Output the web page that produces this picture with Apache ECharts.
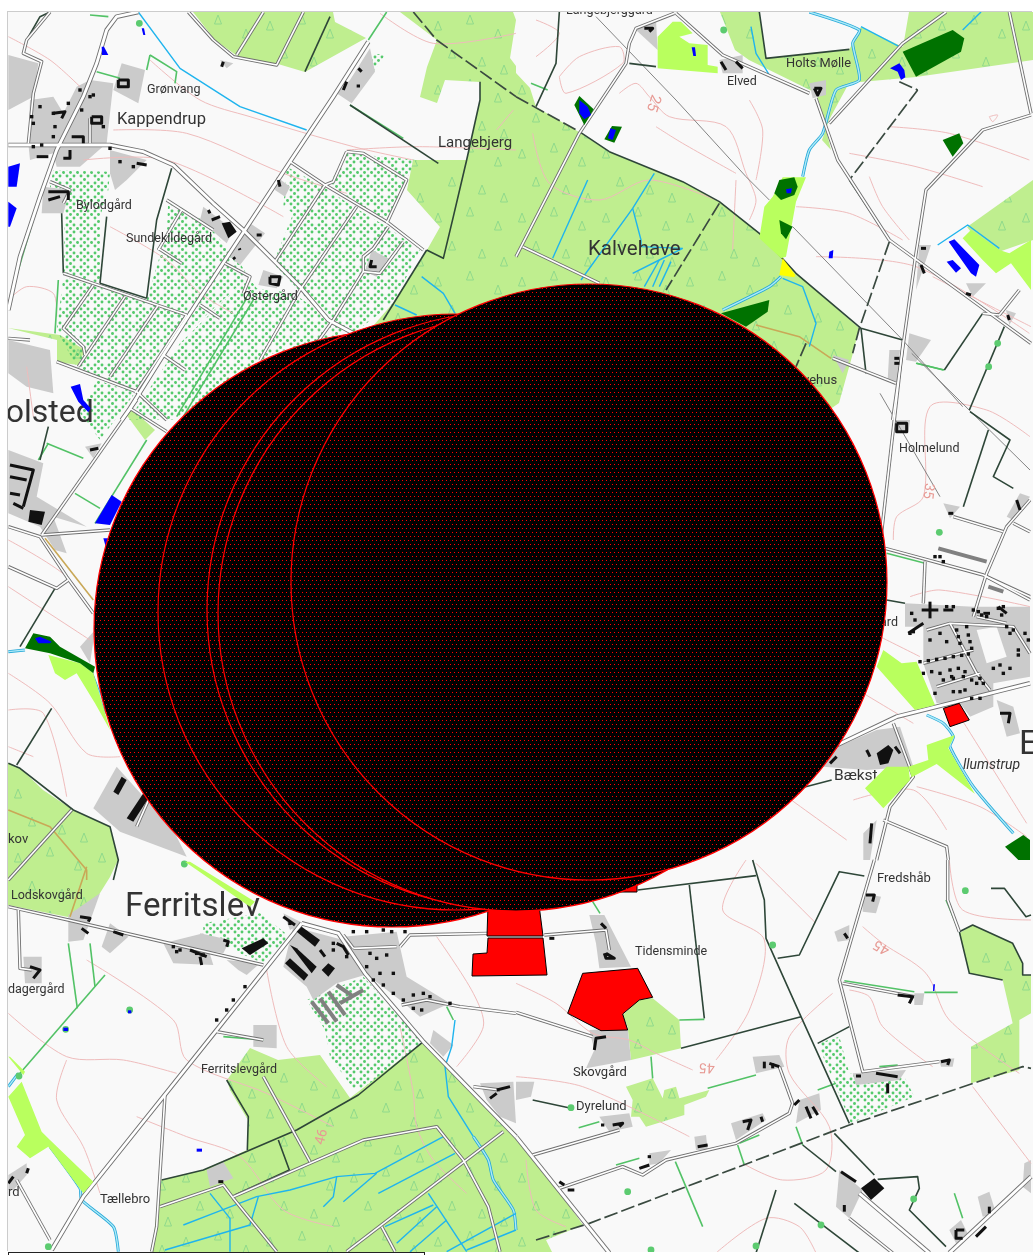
<!DOCTYPE html>
<html><head><meta charset="utf-8">
<style>
html,body{margin:0;padding:0;background:#fff;width:1033px;height:1255px;overflow:hidden}
#chart{position:absolute;left:8px;top:12px;width:1025px;height:1240px;box-shadow:-1px -1px 0 #ccc}
#box{position:absolute;left:8px;top:1252px;width:415px;height:6px;border:1px solid #222;background:#fff}
</style>
<script src="https://cdn.jsdelivr.net/npm/echarts@6/dist/echarts.min.js"></script>
</head><body><div id="chart"></div><div id="box"></div>
<script>
const A=[0,0],B=[516,0],C=[0,860],D=[516,860],E=[780,340],F=[0,380];
const sheet=(o,lists)=>lists.map(l=>{const r=[];for(let i=0;i<l.length;i+=2)r.push([o[0]+l[i]/3,o[1]+l[i+1]/3]);return r;});
const page=lists=>sheet([0,0],lists.map(l=>l.map(v=>v*3)));

const bufferCircles=[[392,629,298],[456,612,298],[505,610,298],[516,613,298],[589,582,298]];

const forest=[
 ...page([[193,12,333,12,335,22,366,38,305,72,278,64,240,58,215,40],
 [400,12,513,12,516,20,510,58,516,66,516,73,530,88,536,107,579,132,609,152,683,182,719,202,759,233,796,273,859,328,853,353,839,403,700,500,400,500,367,333,393,303,427,250,440,227,407,190,413,160,467,160,480,100,480,82,445,80,437,103,420,97,427,67,437,40],
 [720,12,759,12,766,58,849,50,861,27,903,47,909,12,1033,12,1033,60,916,77,849,83,829,120,822,140,831,150,820,105,816,93,749,60,735,50],
 [967,227,1033,180,1033,240,990,255],
 [8,763,20,768,43,790,73,810,110,827,118,860,110,877,100,893,83,920,8,905],
 [250,1048,278,1060,320,1055,350,1098,423,1042,516,1137,536,1160,583,1225,546,1240,552,1252,152,1252,160,1180,203,1170,247,1150,248,1120,230,1090,227,1080],
 [8,328,57,340,57,362,78,365,85,350,60,335],[125,413,133,410,155,430,145,440]]),
 ...sheet(D,[[410,415,490,480,495,565,345,600,335,500,320,465,370,420],
 [330,680,410,655,440,715,445,690,480,680,490,715,580,690,570,710,505,735,505,765,390,800,370,770,345,770,350,720],
 [1330,220,1370,195,1490,250,1520,310,1520,345,1545,345,1545,460,1510,480,1510,630,1365,670,1365,560,1490,490,1460,360,1360,340]])
];
const orchards=[
 ...sheet(A,[[160,510,330,515,325,570,300,650,300,850,190,820,195,640,150,560],
 [190,830,440,905,560,945,400,1180,230,1100,170,990],
 [505,600,640,680,660,720,720,790,745,830,560,1000,440,900,500,700],
 [745,830,770,865,880,880,1050,1000,820,1060,520,1260,385,1260,540,1030],
 [860,500,970,560,1060,620,1160,680,1260,750,1180,910,1060,1000,980,960,820,790,880,640,850,620],
 [1040,460,1250,480,1215,545,1165,660,1060,610,990,550],[1115,160,1155,165,1120,215]]),
 ...page([[80,413,97,380,135,393,100,440]]),
 ...sheet(C,[[610,190,780,160,870,230,790,310,720,280,610,220],[920,420,1090,350,1270,545,1070,700,990,590,975,510]]),
 ...sheet(D,[[905,550,970,530,1000,640,1165,650,1195,710,1005,790]])
];
const builtUp=[
 ...sheet(A,[[25,165,115,190,100,290,25,330],[90,300,160,290,190,340,230,260,270,240,340,250,320,430,240,500,170,500,160,460,90,480,85,430],[365,190,435,210,415,310,340,270],[330,450,440,480,380,540,345,570,330,520],[130,560,210,570,190,640,125,640],[610,620,700,690,680,730,600,660],[750,670,795,700,720,795,690,770],[830,530,870,560,855,590,825,570],[1110,145,1125,215,1055,310,1010,280,1050,240],[1115,750,1165,775,1130,830,1095,815],[790,810,850,830,830,865,775,855],[660,180,700,190,680,205],[25,1020,150,1050,160,1180,80,1160,25,1120]]),
 ...sheet(F,[[25,210,130,250,110,350,260,440,160,410,200,520,165,510,120,440,25,400],[255,200,305,190,280,235],[240,800,285,750,270,850],[280,1285,350,1160,520,1350,560,1430,360,1355]]),
 ...sheet(C,[[205,165,300,100,250,240,205,245],[330,190,385,230,330,280,305,260],[490,250,610,220,640,315,520,310],[600,220,690,240,670,280,610,270],[680,300,780,310,740,345,715,330],[760,495,830,495,830,565,760,560],[70,290,125,290,125,370,75,370],[25,945,80,910,80,945,40,990,25,990],[620,930,670,905,700,955,630,980],[1300,510,1360,555,1330,590,1290,550],[1440,670,1540,665,1548,790,1500,770,1460,720],[850,160,910,190,870,210],[880,200,1030,240,1095,345,1010,370,940,420,920,380,850,320],[1030,230,1190,215,1220,350,1350,430,1260,470,1200,420,1095,340]]),
 ...sheet(D,[[220,165,265,165,345,320,250,325,240,250],[220,510,335,505,345,600,210,625,235,570],[0,665,55,665,45,710,0,720],[710,590,790,585,805,620,720,640],[850,720,910,700,915,750,840,790],[645,790,740,760,750,780,660,840],[955,215,1000,195,1000,240,965,245],[1040,100,1095,110,1080,160,1040,155],[1010,640,1170,630,1150,660,1020,675],[1195,400,1225,400,1220,435,1195,435],[1270,600,1315,595,1310,620,1275,620],[535,830,570,825,575,870,540,870],[400,880,465,870,430,910,400,915],[250,770,340,760,350,800,280,815],[970,930,1040,990,1000,1075,960,1040],[1385,1010,1420,995,1440,1060,1400,1070],[1300,1110,1335,1080,1360,1130,1320,1150],[1525,910,1545,900,1545,1000,1520,980]]),
 ...sheet(E,[[375,790,580,800,750,800,750,1010,640,1030,640,1100,570,1130,540,1090,470,1090,430,970,430,860,375,860],[650,1080,700,1100,720,1180,680,1190],[150,1230,290,1170,360,1160,400,1280,260,1290,130,1280],[490,490,540,500,510,535],[680,530,720,460,750,470,700,540],[330,30,360,30,350,120,330,120],[345,240,390,240,385,280,350,275],[250,1480,290,1440,270,1560,250,1560]]),
 ...sheet(B,[[360,90,420,60,425,150],[610,180,680,165,680,220,620,220],[880,250,930,240,930,285,890,295],[1180,1000,1245,1020,1200,1085,1170,1080],[1120,1050,1150,1050,1145,1145,1115,1140],[1350,850,1410,850,1370,890],[1210,735,1245,735,1200,870],[950,1065,1000,1080,980,1120],[1470,930,1500,940,1480,975]])
];
const clearings=sheet(E,[[590,870,650,860,680,950,620,970]]);
const contours=[
 ...sheet(A,[[250,480,500,480,850,650],[340,390,560,400,850,520,1040,580],[450,180,600,300,750,350,1060,440,1240,480],[1140,40,1300,130,1548,100],[1490,390,1540,330],[330,680,500,780,600,880,700,940],[25,110,150,180,240,260],[25,900,80,860,160,880,170,950],[80,1100,100,1250],[1040,450,1250,440,1548,450]]),
 ...sheet(B,[[130,230,190,170,310,140,320,190,150,280,130,230],[310,280,360,250,400,290,460,350,630,380,690,520,720,600,700,660],[420,380,500,430,660,520],[840,620,1000,640,1160,720],[900,770,1200,800,1540,1000],[1120,380,1300,400,1540,480],[1060,530,1100,620,1180,720],[1250,830,1545,980],[50,400,100,550,250,600,400,540,600,600],[660,540,650,750],[700,300,740,390,720,540],[1420,350,1445,345,1430,365,1420,350],[1000,460,1200,500,1400,560],[60,60,130,100,60,170]]),
 ...sheet(C,[[260,300,520,480,560,600,800,700,1000,800],[25,460,200,590,370,600,530,640],[410,770,560,830,720,890,850,1050,1000,1100],[1200,500,1240,700,1250,800,1300,900,1400,1000],[800,330,860,560,980,680],[1310,230,1420,400,1450,500,1370,620],[200,600,170,720,250,860,300,1000]]),
 ...sheet(D,[[0,370,120,430,230,520,340,540,420,580,530,630],[600,600,700,450,745,240,620,150,690,0],[720,10,900,190],[1040,200,1100,250,1230,340,1300,480,1510,640],[1000,390,1060,410,1100,500,1250,620],[950,400,820,530,820,640,940,800,930,930,800,960,680,910],[0,650,200,680,520,830],[600,1179,750,1075,850,1100,900,1179],[1370,680,1545,910],[1300,0,1340,150,1545,180],[30,900,60,1050,150,1100]]),
 ...sheet(E,[[340,600,350,530,430,470,450,200,620,210,750,290],[390,770,480,750,750,800],[300,890,420,950],[250,1060,400,1150],[540,1130,740,1450],[20,1370,200,1500],[220,1380,400,1350,500,1470],[410,1340,600,1400,740,1490]]),
 ...sheet(F,[[25,480,200,590,290,720],[25,620,270,780],[25,880,150,970,260,1120,360,1130],[25,990,130,1000,200,1250],[25,1100,100,1130]])
];
const trails=[...sheet(F,[[25,1290,150,1340,260,1470,260,1500],[135,475,280,660]]),...sheet(C,[[260,20,210,170]]),...sheet(B,[[720,975,850,1010,945,1075]])];
const streams=[
 ...sheet(A,[[415,36,540,205,720,320,920,390],[1265,830,1330,880,1365,940],[1185,915,1250,945]]),
 ...sheet(B,[[1035,80,1150,140],[1340,90,1395,36],[215,540,110,775],[415,520,350,625,195,840],[350,625,375,720,375,740,500,745],[350,820,430,780,500,745],[430,780,385,860],[445,780,410,860],[465,785,430,860],[705,80,720,160,760,225],[800,835,860,860,900,970,880,1040],[1265,735,1355,675,1450,745]]),
 ...sheet(C,[[550,1095,640,1060,770,1010,870,990,1010,950,1125,940,1330,830],[1135,1000,1365,880],[1010,950,1000,1010,970,1040],[1030,1025,1130,940],[630,1000,690,1075,690,1175],[495,1170,750,1095,775,1010],[1285,1000,1400,1175],[1155,1100,1300,1035],[1190,1150,1310,1040],[1230,1175,1340,1080],[1340,1175,1548,1060],[1400,1170,1548,1110],[1365,480,1355,560,1335,620,1345,710,1420,830]])
];
const rivers=[
 ...sheet(B,[[880,36,1030,90,1010,130,1030,240,960,270,920,400,880,450,860,530],[795,830,760,860,620,930]]),
 ...sheet(C,[[1420,830,1465,900,1480,960,1540,1050,1548,1110],[150,860,240,985,245,1020,340,1100,355,1175],[25,680,55,640]]),
 ...sheet(E,[[440,1125,490,1150,520,1190,510,1220,580,1340,700,1480]]),
 ...sheet(F,[[25,815,75,810],[275,880,320,1000]])
];
const hedgesGreen=[
 ...sheet(A,[[450,165,530,215,525,250],[450,165,440,210],[290,215,360,235],[1050,315,1210,415],[270,45,325,50],[1160,36,1105,120],[1000,290,950,370],[135,540,40,860],[165,1000,175,840],[740,895,530,1250],[760,900,550,1250]]),
 ...sheet(F,[[140,190,250,235],[115,240,145,190],[225,340,300,385],[285,430,440,180]]),
 ...sheet(C,[[205,250,232,445],[270,250,285,380],[315,345,60,640],[670,530,790,540],[1360,480,1340,440]]),
 ...sheet(D,[[490,480,565,478],[405,590,410,655],[575,685,720,645],[905,690,960,670],[840,800,860,855],[665,855,685,915],[478,905,560,1100],[188,803,250,785],[985,362,1195,395],[1225,397,1325,397],[1290,120,1330,215],[1315,1000,1340,1075],[300,915,370,895],[670,850,730,825],[1090,620,1145,615],[230,125,252,160]]),
 ...sheet(B,[[1200,1090,1285,1110],[45,250,95,270]]),
 ...sheet(E,[[320,640,435,670],[410,70,490,90]])
];
const hedgesDark=[
 ...sheet(A,[[515,505,470,660,440,895],[300,850,440,895],[320,650,300,850],[185,640,190,820],[1440,245,1440,300,1400,480,1360,650,1330,775,1280,750],[1050,315,1315,490],[990,50,915,215],[80,120,120,50,150,36],[1280,750,1150,960]]),
 ...sheet(B,[[190,395,280,455,500,545,610,605,730,700,840,820,1035,985,1160,1020],[130,36,120,190,60,320],[730,36,750,175,1000,148],[1000,540,1120,720],[1035,985,1050,1120],[1400,940,1285,1110],[1465,980,1360,1230],[340,190,420,200]]),
 ...sheet(E,[[570,215,690,300,640,410,700,445],[625,270,550,500],[320,780,375,790],[40,1350,155,1320]]),
 ...sheet(D,[[710,0,745,120,750,235,855,470,1000,790],[365,90,720,47],[520,75,565,475],[495,565,855,470],[785,295,850,285,970,35,1045,48],[905,550,1000,500],[860,855,960,935],[955,820,1075,945],[1085,958,1205,950,1210,985,1180,1050,1290,1160],[780,990,720,1179],[835,1030,1030,1179],[50,720,165,745],[1425,85,1465,85,1530,170,1545,165],[1330,215,1370,195,1490,250,1520,310,1520,345,1545,345],[1330,215,1360,340,1460,360]]),
 ...sheet(C,[[1270,545,1075,705,890,810,610,930,485,960],[680,660,745,770,742,870],[835,840,868,930,705,1005]]),
 ...sheet(F,[[25,1150,60,1165,220,1290,330,1340,355,1440,340,1500],[50,1155,155,985],[60,800,165,625],[145,140,120,240]])
];
const boundaries=[
 ...sheet(A,[[1240,36,1310,120,1548,290]]),
 ...sheet(B,[[0,290,190,395],[1120,725,1030,985,1010,1060],[1205,270,1000,540],[610,610,450,870],[870,1030,840,1100],[1150,245,1205,270]]),
 ...sheet(D,[[60,1140,220,1090,1000,795,1520,620,1545,625]])
];
const powerLines=[...sheet(B,[[240,50,480,300,690,530,760,600],[830,680,1160,1020,1340,1220]]),...sheet(E,[[395,40,750,390],[300,160,480,470]])];
const roads=[
 ...sheet(A,[[150,36,80,120,70,160,125,185,100,280,85,430],[870,485,975,555,1160,665,1270,750],[1040,455,1090,460,1220,540,1160,670],[1040,455,1000,545,975,555,825,785],[1070,620,900,870,780,1080],[1210,725,1140,820,1090,815,1090,770,1120,745,1165,680],[1090,815,1000,960,950,1030],[500,600,640,690],[545,630,475,750],[475,745,545,790],[675,790,750,830,730,880],[190,820,560,945],[280,855,190,985,250,1040,255,1065],[375,890,235,1100],[475,915,330,1130],[560,945,405,1180],[600,915,660,955],[490,1065,555,1110],[170,1085,410,1175,500,1260],[25,1015,90,1020],[150,545,210,570,190,610],[565,36,640,120,700,170,830,195,910,36],[790,36,710,165],[270,355,270,430]]),
 ...sheet(B,[[475,40,360,85,340,130,330,190,190,400,0,770],[480,40,620,165,880,280],[900,295,965,480,1120,720,1545,1030],[1545,345,1400,390,1230,570,1200,760,1130,1260],[1290,36,1160,130,940,370],[1480,36,1545,340],[20,740,250,850],[950,1075,1140,1150],[1400,940,1450,945],[1510,870,1450,945]]),
 ...sheet(E,[[370,0,300,620],[315,625,610,705,750,780],[750,480,680,560,620,700,580,830],[700,550,750,575],[520,530,670,575],[435,665,430,790],[620,710,750,770],[340,1150,400,1310,330,1400,290,1560],[310,1440,500,1520,505,1560],[430,970,580,930],[470,1040,600,1000],[510,850,590,1000,630,1050],[440,870,510,850,700,860,750,940],[590,830,680,850]]),
 ...sheet(F,[[25,440,120,470,200,590,280,700],[25,560,170,625,205,600],[125,465,330,450],[125,465,410,60],[390,85,500,155],[410,1340,450,1250],[25,1500,215,1290]]),
 ...sheet(C,[[25,140,205,180,790,315],[55,150,60,325,95,330],[495,705,470,1100,455,1175],[650,515,790,540],[790,650,930,905],[480,1040,670,975,700,1015,830,1175],[700,1010,1090,840,1310,800,1390,900,1465,1040,1500,1175],[1040,1175,1510,815],[1145,1100,1185,1175],[50,960,150,1140],[1200,260,1230,225,1465,220],[1060,265,1190,260],[1205,435,1280,420,1380,440,1548,460],[1420,680,1500,690],[1030,225,1060,265]]),
 ...sheet(D,[[0,457,230,530],[85,225,270,210,280,270],[50,885,310,810],[130,985,320,920,380,945,450,900,660,850,820,760,830,730,790,620],[1075,0,970,360,1040,635,1270,605],[980,370,1195,410],[1295,0,1295,120,1330,215],[1000,1075,1130,1179]])
];
const mainRoads=[
 ...sheet(A,[[415,36,350,50,320,90,290,190,250,290,170,450,120,590,60,770,25,930],[25,435,330,435,430,455,520,495,640,610,730,690,900,860,985,960,1060,1000],[1105,125,1000,290,870,485,735,690,590,910,490,1065,390,1225,365,1260]]),
 ...sheet(E,[[140,1230,350,1130,750,1030]]),
 ...sheet(C,[[905,190,650,510,250,1010,155,1170],[905,190,1015,220,1095,340,1270,545,1548,830]]),
 ...sheet(D,[[0,830,280,1179],[1030,1000,1240,1179],[1300,1179,1545,950]])
];
const buildings=[
 ...sheet(A,[[355,240,385,240,385,260,355,260,355,240],[275,350,305,350,305,370,275,370,275,350],[215,410,250,410,250,430],[210,450,210,475,190,475],[110,470,145,470],[410,490,440,495],[145,575,205,575,205,600],[145,600,180,590],[625,630,630,640],[635,660,660,650],[770,705,785,705],[718,745,720,750],[700,772,705,778],[810,830,840,830,835,855,810,850,810,830],[835,540,840,560],[1075,205,1085,215],[1040,245,1030,270],[1070,258,1080,258],[1115,780,1110,800,1130,800],[670,185,665,200],[160,340,195,335,185,355]]),
 ...sheet(F,[[30,255,100,270,70,380],[30,290,80,300],[30,340,60,345],[40,370,70,385],[270,210,295,205]]),
 ...sheet(C,[[240,170,270,175,265,185],[245,205,265,220],[340,215,370,225],[570,270,620,290],[600,290,605,315],[670,240,685,245,680,260],[90,320,120,330,100,355],[40,950,25,970],[85,925,80,940],[655,965,670,965],[1490,690,1530,680],[1470,715,1490,700],[1010,250,1030,260,1045,285],[960,270,975,290],[850,170,885,195]]),
 ...sheet(D,[[235,570,240,535,270,530],[270,280,295,295,270,295,265,280],[100,235,115,235],[255,190,270,205],[745,605,745,625],[760,610,790,620],[770,610,770,625],[850,720,835,735],[680,785,705,780,695,810],[735,770,740,785],[545,860,575,855],[370,925,400,915],[395,890,405,890],[130,965,145,975],[155,990,175,990],[255,795,265,795],[290,795,320,790,310,800],[1050,105,1075,105,1070,125],[985,220,995,235],[1080,640,1145,650],[1115,670,1115,700],[1020,648,1035,648],[1145,405,1190,410,1180,430],[1275,605,1300,600,1295,615],[975,935,1020,965],[1320,1110,1345,1110],[1320,1110,1320,1135,1340,1135],[1420,1040,1420,1060],[1380,1130,1410,1100],[985,1035,985,1055],[870,740,885,775],[890,740,905,765]]),
 ...sheet(E,[[350,250,380,250,380,275,350,275,350,250],[425,810,475,810],[450,785,450,835],[490,810,520,810],[505,520,520,520],[710,480,720,510],[385,880,430,850],[260,1230,270,1250],[345,1220,360,1240],[150,1270,170,1250],[660,1120,690,1120,685,1150],[275,1450,270,1510],[610,820,630,820],[655,800,680,820]]),
 ...sheet(B,[[385,85,410,85,400,95],[615,185,630,210],[660,185,680,205],[895,265,915,265,905,285,895,265],[1135,1075,1150,1075],[1135,1090,1150,1090],[1215,745,1230,745],[1215,795,1225,820],[1350,880,1365,885],[1475,945,1480,960]])
];
const solidBlocks=[
 ...sheet(C,[[855,310,870,295,925,345,912,362],[870,255,890,265,950,320,935,340],[890,215,905,200,960,240,945,260],[965,330,985,310,1005,325,985,350],[725,265,790,235,805,250,750,285]]),
 ...sheet(F,[[90,390,135,395,125,435,85,425],[340,1235,365,1190,380,1200,355,1245],[380,1315,430,1240,445,1255,400,1325]]),
 ...sheet(E,[[290,1240,325,1215,340,1230,325,1270,300,1275]]),
 ...sheet(A,[[665,670,690,665,710,695,685,715]]),
 ...sheet(D,[[1035,985,1075,955,1105,985,1065,1020]])
];
const houses=[
 ...sheet(E,[[420,965],[445,962],[470,958],[495,955],[520,950],[545,946],[565,942],[430,1000],[455,995],[480,1000],[510,990],[535,985],[555,995],[465,1060],[490,1020],[520,1015],[550,1010],[575,1020],[520,1055],[540,1055],[555,1050],[450,900],[480,880],[500,905],[530,870],[535,890],[540,910],[560,860],[565,885],[570,905],[575,925],[595,815],[605,825],[620,830],[655,805],[670,800],[665,825],[640,985],[660,975],[670,1000],[690,985],[715,930],[715,945],[735,880],[745,900],[700,870],[680,860],[690,880],[610,1030],[600,1015],[575,1075],[600,1075],[515,1010],[500,800],[520,800],[395,820],[405,840],[390,880],[400,875],[465,650],[480,650],[490,665],[580,810],[590,1030]]),
 ...sheet(C,[[1060,215],[1100,215],[1150,210],[1215,215],[1175,215],[1110,280],[1130,295],[1160,285],[1100,320],[1140,340],[1180,340],[1120,360],[1150,375],[1180,400],[1210,420],[1240,405],[1270,400],[1290,410],[1265,450],[1240,445],[1350,430],[870,190],[1000,270],[1040,290],[1000,250],[650,480],[680,450],[700,420],[735,380],[520,260],[530,275],[610,285],[590,280],[540,270]]),
 ...sheet(A,[[95,350],[100,370],[120,320],[100,440],[125,435],[165,380],[160,410],[205,310],[245,330],[270,290],[280,285],[240,270],[310,380],[360,485],[400,500],[330,445],[160,340]])
];
const sheds=[...sheet(C,[[935,425,985,490],[960,415,1010,485],[985,395,1035,465],[1010,375,1060,410],[1020,430,1090,390]]),...sheet(E,[[475,625,620,665],[625,740,670,755]])];
const treeDots=[...sheet(D,[[770,255],[1348,92],[335,995],[405,1170],[720,1158],[915,1095],[1193,1017],[165,743]]),...sheet(B,[[623,90],[1445,1030],[1418,1100]]),...sheet(E,[[478,577]]),...sheet(A,[[418,70]]),...sheet(C,[[57,648],[145,1160],[553,12],[389,450],[197,508]])];
const limePatches=[
 ...sheet(B,[[425,110,470,65,495,65,530,100,490,110,520,130,575,135,575,195,605,200,605,220,425,205],[870,532,800,532,770,590,745,620,730,715,795,775,810,770,840,605],[1340,715,1365,690,1450,750,1480,760,1545,720,1545,870,1485,790,1440,820,1400,780]]),
 ...sheet(E,[[290,980,310,930,365,970,410,965,465,1095,405,1110],[440,1215,525,1185,505,1225,585,1362,470,1272,395,1312,385,1280,445,1260],[320,1280,385,1280,390,1320,310,1405,255,1345]]),
 ...sheet(F,[[145,825,240,850,280,880,330,1050,285,970,230,880,195,900,165,880]]),
 ...sheet(C,[[25,710,65,665,125,815,150,840,280,965,250,1000,145,860,90,895,50,860,75,825],[25,590,30,590,75,635,70,645],[555,5,570,5,765,125,750,140]])
];
const darkPatches=[
 ...sheet(B,[[1160,155,1310,90,1345,115,1335,155,1200,230],[1280,420,1330,400,1342,430,1310,470],[790,540,835,532,845,560,835,585,795,600,775,580],[790,660,830,680,810,718,795,700],[175,315,190,288,233,328,205,375],[265,418,288,378,318,380,295,428],[615,940,760,900,755,935,690,980]]),
 ...sheet(F,[[75,805,100,760,150,770,180,800,285,860,280,880,240,850,150,820]]),
 ...sheet(E,[[675,1520,730,1485,750,1500,750,1560,715,1560]])
];
const ponds=[
 ...sheet(B,[[190,300,215,320,225,345,205,358,190,340],[283,385,300,390,290,420,276,415],[527,142,537,142,540,168,532,168],[1122,205,1150,190,1165,210,1168,232,1155,240,1145,215],[810,568,828,565,825,580,812,580],[940,755,952,750,950,775,938,775],[1298,725,1315,718,1390,795,1380,830,1365,820,1330,770],[1292,785,1310,780,1335,805,1320,818]]),
 ...sheet(A,[[305,140,312,140,325,165,306,165],[425,85,432,85,436,105,430,105],[25,500,60,490,50,560,25,560],[25,605,50,625,30,680,25,680]]),
 ...sheet(F,[[212,20,240,12,250,60,272,85,265,97,235,65],[285,430,335,345,365,365,330,435],[310,475,325,475,320,510],[105,775,120,770,155,785,150,790,115,790]]),
 ...sheet(C,[[190,503,204,503,204,513,190,513],[384,451,394,451,394,460,384,460],[590,866,606,866,606,875,590,875]]),
 ...sheet(D,[[1252,373,1257,373,1255,393,1251,393]])
];
const yellowPatches=sheet(B,[[800,775,838,825,835,832,790,825]]);
const redParcels=[...page([[488,905,539,905,543,936,487,936],[488,938,543,938,547,975,472,976,473,954,487,953],[620,880,637,880,637,892,620,892]]),...sheet(D,[[155,460,200,340,365,325,410,412,370,420,320,462,335,510,255,512]]),...sheet(E,[[490,1105,538,1090,568,1140,510,1160]])];
const placeLabels=[
 ["Grønvang",147,90,12.5],["Kappendrup",117,120,16.5],["Bylodgård",76,206,12.5],["Sundekildegård",126,239,12.5],["Østergård",243,297,12.5],
 ["Langebjerg",438,143,15],["Langebjerggård",566,11,12.5],["Elved",727,82,12.5],["Holts Mølle",786,64,12.8],["Kalvehave",588,250,20.5],
 ["Rolsted",-14,414,32],["Holmelund",899,449,12.5],["Bækst",834,776,15.5],["ård",880,623,12.5],["vehus",803,381,13],["Fredshåb",877,879,13],
 ["Tidensminde",635,952,12.5],["Skovgård",573,1073,13],["Dyrelund",576,1107,13],["Ferritslevgård",201,1070,12.5],["Tællebro",100,1200,13],
 ["Ferritslev",125,908,33],["Lodskovgård",11,896,12.5],["dagergård",8,990,12.5],["kov",8,840,13],["rd",8,1193,13],["E",1019,745,34]
];
const italicLabels=[["llumstrup",963,765,14]];
const contourLabels=[["25",653,103,15,-1.9],["35",928,491,14,-1.7],["45",882,947,14,2.6],["45",707,1067,14,3.1],["46",322,1137,14,1.3]];

// Fill patterns
function tile(w,h,draw){const c=document.createElement('canvas');c.width=w;c.height=h;draw(c.getContext('2d'));return {image:c,repeat:'repeat'};}
const hatch=tile(4,8,x=>{x.fillStyle='#000';x.fillRect(0,0,4,8);x.fillStyle='#ff0000';x.fillRect(0,0,1,1);x.fillRect(2,4,1,1);});
const dots=tile(14,14,x=>{x.fillStyle='#55c96c';[[3,3],[10,3],[6.5,6.5],[13.5,6.5],[-0.5,6.5],[3,10],[10,10],[6.5,13.5],[6.5,-0.5]].forEach(p=>{x.beginPath();x.arc(p[0],p[1],1.45,0,7);x.fill();});});
const trees=tile(84,64,x=>{x.fillStyle='#bfee8f';x.fillRect(0,0,84,64);x.strokeStyle='#90da8c';x.lineWidth=1;[[10,14],[42,8],[70,22],[24,42],[54,50],[76,58]].forEach(p=>{x.beginPath();x.moveTo(p[0],p[1]-5);x.lineTo(p[0]-3.5,p[1]+4);x.lineTo(p[0]+3.5,p[1]+4);x.closePath();x.stroke();});});

function layer(list,kind,style){
 return {type:'custom',coordinateSystem:'cartesian2d',silent:true,animation:false,clip:true,
  data:list.map(p=>[p[0][0],p[0][1]]),
  renderItem(params,api){
   const pts=list[params.dataIndex].map(p=>api.coord(p));
   return {type:kind,shape:{points:pts,smooth:style.smooth||0},style:{fill:kind==='polygon'?style.fill:null,stroke:style.stroke||null,lineWidth:style.lineWidth||0,lineDash:style.lineDash||null,lineJoin:'round',lineCap:style.lineCap||'butt'}};
  }};
}
function circles(list,style){
 return {type:'custom',coordinateSystem:'cartesian2d',silent:true,animation:false,
  data:list.map(c=>[c[0],c[1]]),
  renderItem(params,api){
   const c=list[params.dataIndex],o=api.coord([c[0],c[1]]);
   return {type:'circle',shape:{cx:o[0],cy:o[1],r:api.size([c[2],0])[0]},style};
  }};
}
function dotsLayer(list,r,fill){
 return {type:'custom',coordinateSystem:'cartesian2d',silent:true,animation:false,
  data:list.map(p=>p[0]),
  renderItem(params,api){const o=api.coord(list[params.dataIndex][0]);return {type:'circle',shape:{cx:o[0],cy:o[1],r},style:{fill}};}};
}
function squares(list,s,fill){
 return {type:'custom',coordinateSystem:'cartesian2d',silent:true,animation:false,
  data:list.map(p=>p[0]),
  renderItem(params,api){const o=api.coord(list[params.dataIndex][0]);return {type:'rect',shape:{x:o[0]-s/2,y:o[1]-s/2,width:s,height:s},style:{fill}};}};
}
function labels(list,color,opts){
 return {type:'custom',coordinateSystem:'cartesian2d',silent:true,animation:false,
  data:list.map(l=>[l[1],l[2]]),
  renderItem(params,api){
   const l=list[params.dataIndex],o=api.coord([l[1],l[2]]);
   return {type:'text',x:o[0],y:o[1],rotation:l[4]||0,style:{text:l[0],fill:color,font:(opts.style||'')+' '+l[3]+'px "Roboto",sans-serif',align:opts.align||'left',verticalAlign:'middle'}};
  }};
}
const chart=echarts.init(document.getElementById('chart'),null,{renderer:'canvas'});
chart.setOption({animation:false,backgroundColor:'#f9f9f9',tooltip:{show:false},
 grid:{left:0,right:0,top:0,bottom:0,containLabel:false},
 xAxis:{type:'value',min:8,max:1033,show:false,scale:true},
 yAxis:{type:'value',min:12,max:1252,inverse:true,show:false,scale:true},
 series:[
  layer(forest,'polygon',{fill:trees}),
  layer(orchards,'polygon',{fill:dots}),
  layer(builtUp,'polygon',{fill:'#cbcbcb'}),
  layer(clearings,'polygon',{fill:'#f9f9f9'}),
  layer(contours,'polyline',{stroke:'#efbcbc',lineWidth:1,smooth:0.3}),
  layer(trails,'polyline',{stroke:'#c9a857',lineWidth:1.6}),
  layer(rivers,'polyline',{stroke:'#25a8d8',lineWidth:3,smooth:0.2}),
  layer(rivers,'polyline',{stroke:'#aeeaf8',lineWidth:1.4,smooth:0.2}),
  layer(streams,'polyline',{stroke:'#1fb4ee',lineWidth:1.4}),
  layer(hedgesGreen,'polyline',{stroke:'#52c266',lineWidth:1.6}),
  layer(powerLines,'polyline',{stroke:'#777',lineWidth:0.9}),
  layer(hedgesDark,'polyline',{stroke:'#2e4638',lineWidth:1.6}),
  layer(boundaries,'polyline',{stroke:'#3a4a40',lineWidth:1.7,lineDash:[14,4]}),
  layer(roads,'polyline',{stroke:'#707070',lineWidth:3.4}),
  layer(mainRoads,'polyline',{stroke:'#707070',lineWidth:4.6}),
  layer(roads,'polyline',{stroke:'#ffffff',lineWidth:1.6}),
  layer(mainRoads,'polyline',{stroke:'#ffffff',lineWidth:2.8}),
  layer(sheds,'polyline',{stroke:'#808080',lineWidth:4}),
  layer(solidBlocks,'polygon',{fill:'#111'}),
  layer(buildings,'polyline',{stroke:'#111',lineWidth:3}),
  squares(houses,3.4,'#111'),
  dotsLayer(treeDots,3.4,'#5ccb70'),
  labels(placeLabels,'#333',{}),
  labels(italicLabels,'#333',{style:'italic'}),
  labels(contourLabels,'#e79a94',{align:'center'}),
  layer(limePatches,'polygon',{fill:'#b9ff5e'}),
  layer(darkPatches,'polygon',{fill:'#007200'}),
  layer(ponds,'polygon',{fill:'#0000ff'}),
  layer(yellowPatches,'polygon',{fill:'#ffff00'}),
  layer(redParcels,'polygon',{fill:'#ff0000',stroke:'#000',lineWidth:1}),
  circles(bufferCircles,{fill:hatch,stroke:'#ff0000',lineWidth:1.2})
 ]});
</script></body></html>
